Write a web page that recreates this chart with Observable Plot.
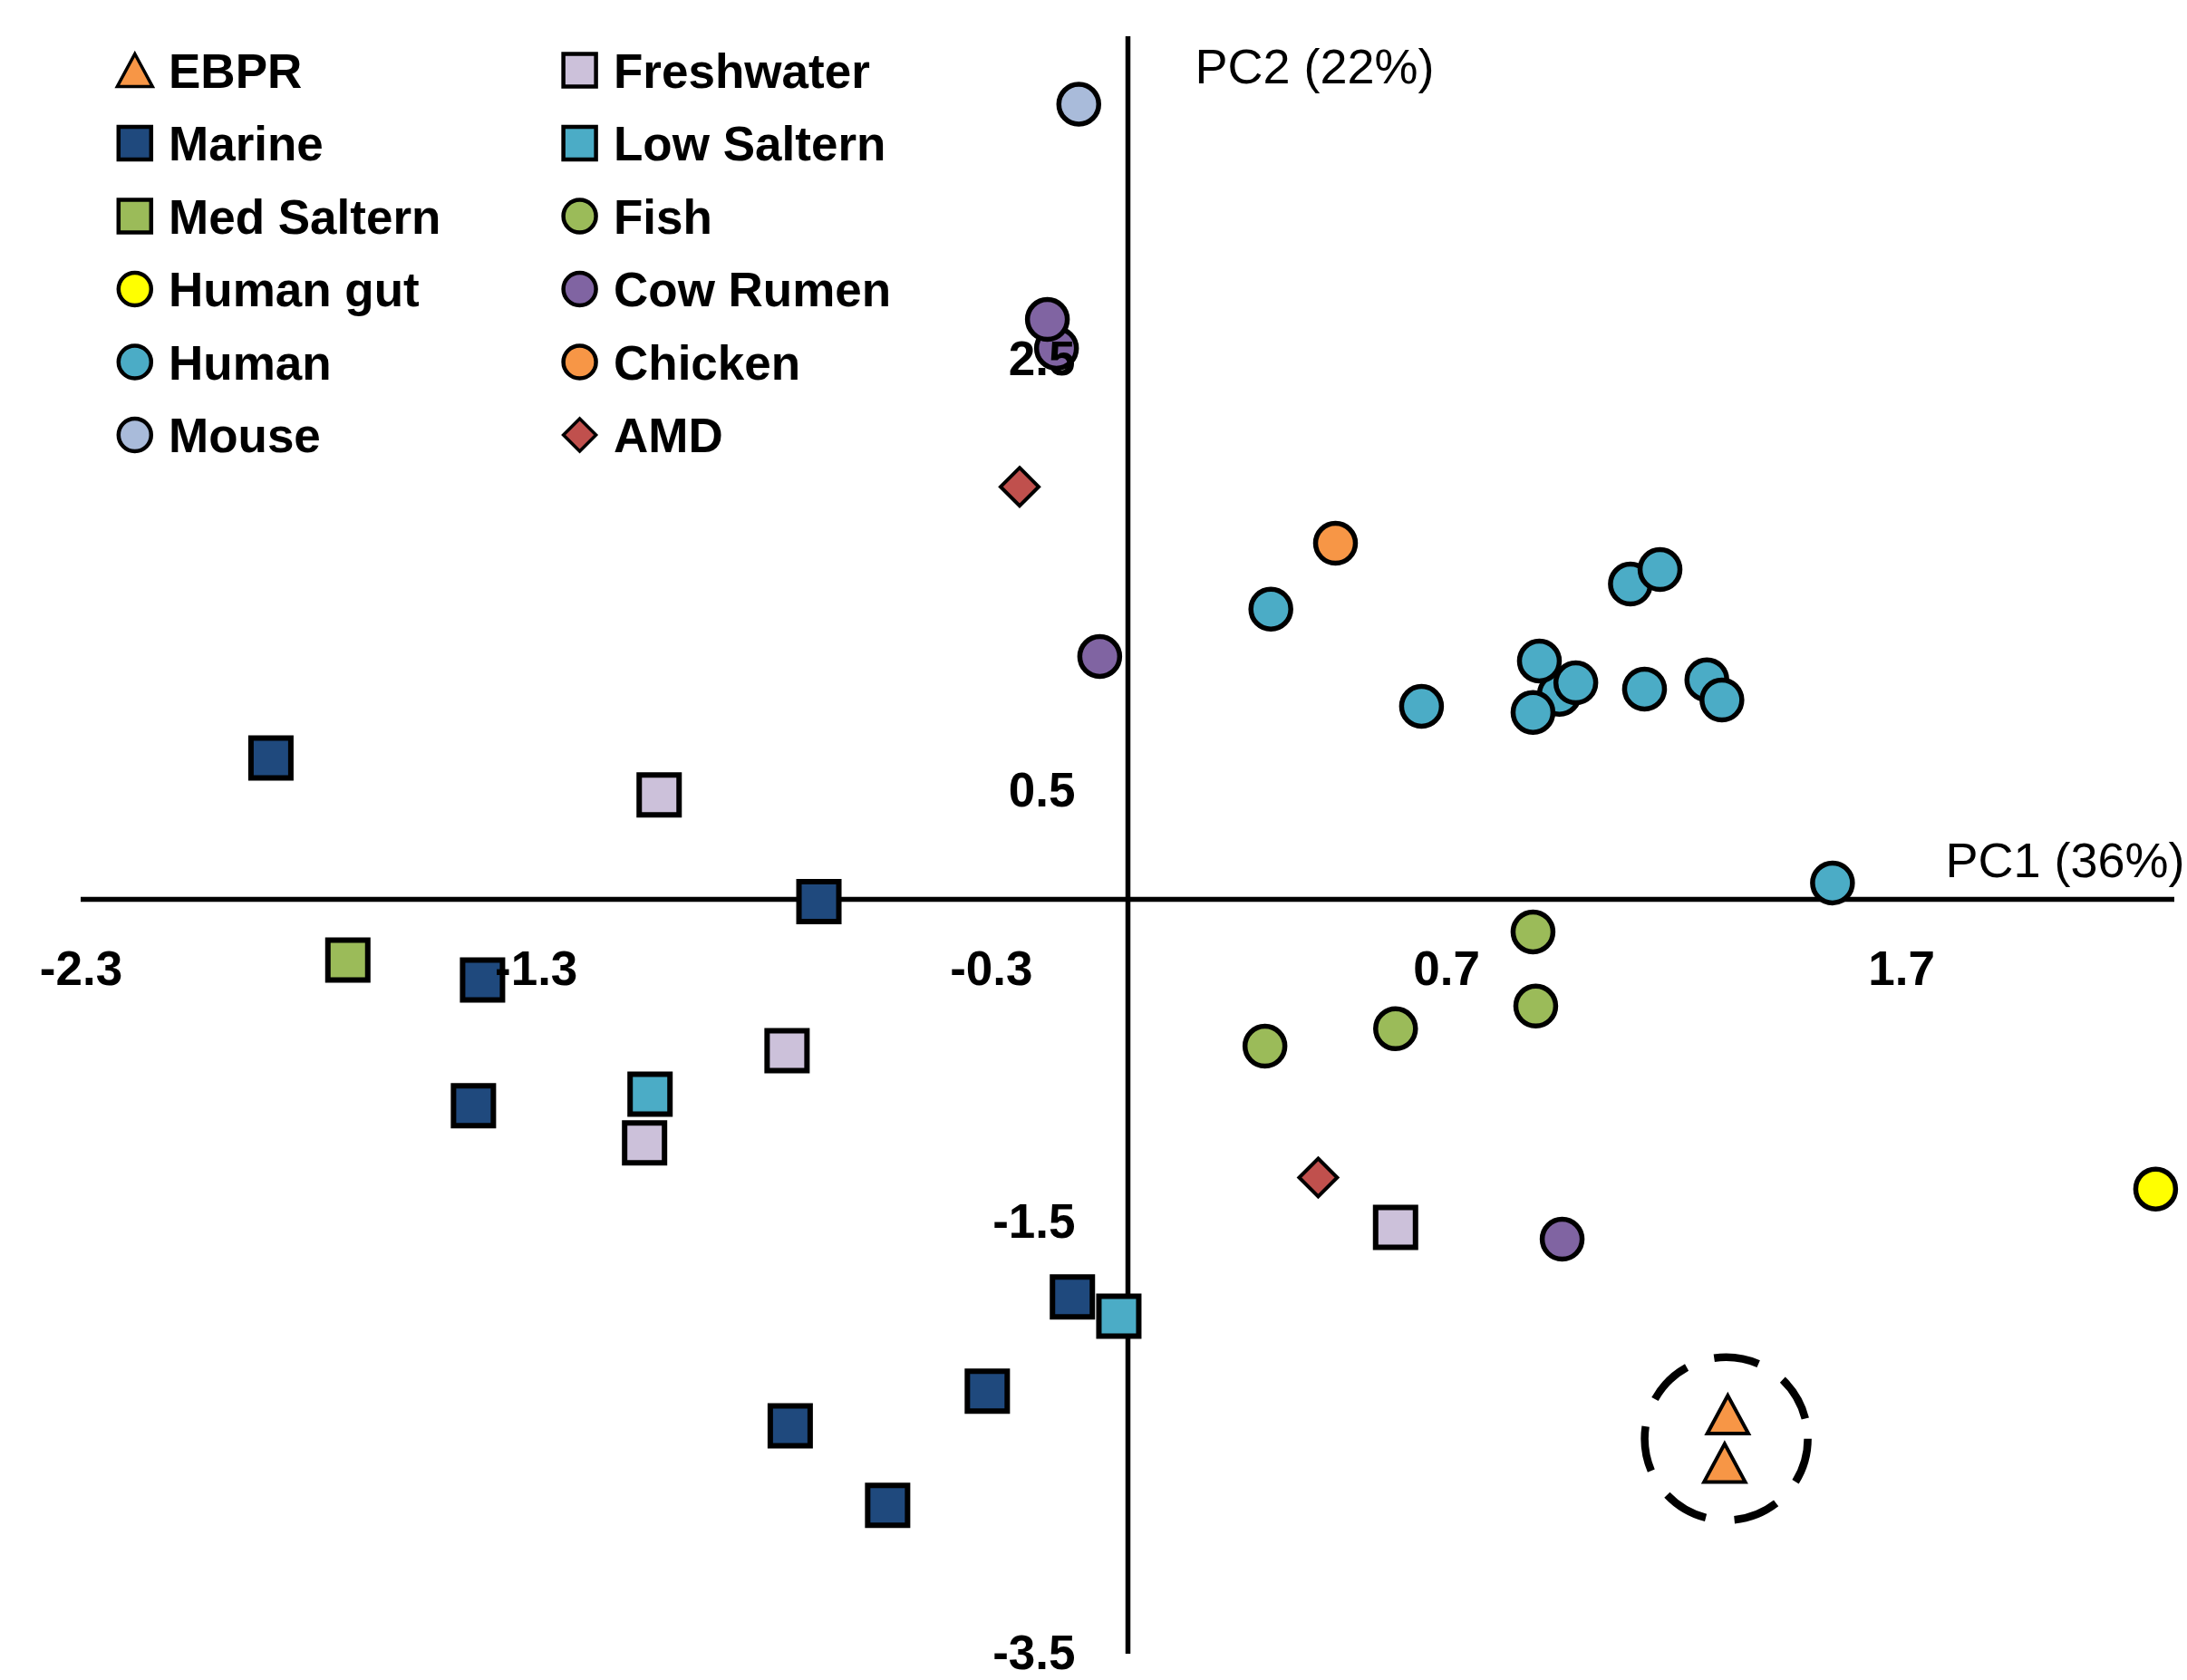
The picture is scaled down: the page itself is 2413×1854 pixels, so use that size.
<!DOCTYPE html>
<html><head><meta charset="utf-8">
<script src="https://cdn.jsdelivr.net/npm/d3@7"></script>
<script src="https://cdn.jsdelivr.net/npm/@observablehq/plot@0.6"></script>
<style>
html,body{margin:0;padding:0;background:#fff;}
#wrap{position:relative;width:2413px;height:1854px;overflow:hidden;background:#fff;}
</style></head><body><div id="wrap"></div>
<script>
// ---- data (PC1, PC2) per series, in series (drawing) order ----
const seriesNames = ["EBPR","Freshwater","Marine","Low Saltern","Med Saltern","Fish","Human gut","Cow Rumen","Human","Chicken","Mouse","AMD"];
const EBPR = [[1.318,-2.389],[1.311,-2.613]];
const Freshwater = [[-1.030,0.484],[-0.749,-0.702],[-1.062,-1.129],[0.588,-1.521]];
const Marine = [[-1.883,0.655],[-0.679,-0.011],[-1.418,-0.374],[-1.438,-0.957],[-0.122,-1.843],[-0.309,-2.280],[-0.742,-2.441],[-0.528,-2.810]];
const LowSaltern = [[-1.050,-0.903],[-0.020,-1.933]];
const MedSaltern = [[-1.714,-0.282]];
const Fish = [[0.890,-0.151],[0.896,-0.495],[0.588,-0.600],[0.301,-0.681]];
const HumanGut = [[2.258,-1.343]];
const CowRumen = [[-0.157,2.555],[-0.177,2.689],[-0.062,1.126],[0.954,-1.576]];
const Human = [[0.948,0.951],[0.904,1.105],[0.984,1.004],[0.890,0.867],[0.314,1.346],[0.645,0.895],[1.104,1.462],[1.169,1.529],[1.135,0.975],[1.272,1.018],[1.305,0.924],[1.548,0.076]];
const Chicken = [[0.456,1.651]];
const Mouse = [[-0.108,3.687]];
const AMD = [[-0.238,1.913],[0.418,-1.290]];
const seriesPoints = [EBPR,Freshwater,Marine,LowSaltern,MedSaltern,Fish,HumanGut,CowRumen,Human,Chicken,Mouse,AMD];

const xTicks = [-2.3,-1.3,-0.3,0.7,1.7];
const yTicks = [2.5,0.5,-1.5,-3.5];
const xTitle = "PC1 (36%)";
const yTitle = "PC2 (22%)";

// ---- styles ----
const seriesColors = ["#F79646","#CCC1DA","#1F497D","#4BACC6","#9BBB59","#9BBB59","#FFFF00","#8064A2","#4BACC6","#F79646","#A9BBDA","#C0504D"];
const seriesShapes = ["triangle","square","square","square","square","circle","circle","circle","circle","circle","circle","diamond"];

const symTriangle = {draw(ctx, size){const r=Math.sqrt(size/Math.PI); ctx.moveTo(0,-r); ctx.lineTo(r*1.08,r); ctx.lineTo(-r*1.08,r); ctx.closePath();}};
const symSquare = {draw(ctx, size){const r=Math.sqrt(size/Math.PI); ctx.moveTo(-r,-r); ctx.lineTo(r,-r); ctx.lineTo(r,r); ctx.lineTo(-r,r); ctx.closePath();}};
const symDiamond = {draw(ctx, size){const r=Math.sqrt(size/Math.PI); ctx.moveTo(0,-r); ctx.lineTo(r,0); ctx.lineTo(0,r); ctx.lineTo(-r,0); ctx.closePath();}};
const shapeStyle = {
  triangle: {symbol: symTriangle, r: 21, strokeWidth: 4},
  square: {symbol: symSquare, r: 22, strokeWidth: 6},
  circle: {symbol: "circle", r: 22, strokeWidth: 5.5},
  diamond: {symbol: symDiamond, r: 21, strokeWidth: 4}
};
const FONT = "'Liberation Sans', Arial, sans-serif";

const rows = seriesNames.map((name, i) => seriesPoints[i].map(([x, y]) => ({series: name, x, y})));

const ebprCenter = [{x: d3.mean(EBPR, d => d[0]), y: d3.mean(EBPR, d => d[1])}];

const marks = [
  Plot.ruleY([0], {stroke: "#000", strokeWidth: 5.5}),
  Plot.ruleX([0], {stroke: "#000", strokeWidth: 5.5}),
  Plot.dot(ebprCenter, {x: "x", y: "y", r: 90, fill: "none", stroke: "#000", strokeWidth: 8.5, strokeDasharray: "50 32"})
];
rows.forEach((data, i) => {
  const st = shapeStyle[seriesShapes[i]];
  marks.push(Plot.dot(data, {x: "x", y: "y", symbol: st.symbol, r: st.r, fill: seriesColors[i], stroke: "#000", strokeWidth: st.strokeWidth}));
});
marks.push(
  Plot.text(xTicks, {x: d => d, y: 0, dy: 78, text: d => String(d), fontSize: 53, fontWeight: "bold", fontFamily: FONT, fill: "#000"}),
  Plot.text(yTicks, {x: 0, y: d => d, dx: -58, textAnchor: "end", text: d => String(d), fontSize: 53, fontWeight: "bold", fontFamily: FONT, fill: "#000"}),
  Plot.text([yTitle], {x: 0, y: 4, dx: 74, dy: 51, lineAnchor: "bottom", textAnchor: "start", text: d => d, fontSize: 54, fontFamily: FONT, fill: "#000"}),
  Plot.text([xTitle], {x: 0, y: 0, dx: 902, dy: -25, lineAnchor: "bottom", textAnchor: "start", text: d => d, fontSize: 54, fontFamily: FONT, fill: "#000"})
);

const chart = Plot.plot({
  width: 2413,
  height: 1854,
  marginLeft: 89,
  marginRight: 14,
  marginTop: 40,
  marginBottom: 29,
  x: {domain: [-2.3, 2.3], axis: null},
  y: {domain: [-3.5, 4], axis: null},
  style: {background: "#fff", overflow: "visible"},
  marks
});
document.getElementById("wrap").appendChild(chart);

// ---- legend overlay ----
const leg = d3.select("#wrap").append("svg")
  .attr("width", 1000).attr("height", 540)
  .style("position", "absolute").style("left", "0px").style("top", "0px");
const legSym = {triangle: symTriangle, square: symSquare, circle: d3.symbolCircle, diamond: symDiamond};
const legR = {triangle: 18, square: 18, circle: 18, diamond: 18};
seriesNames.forEach((name, i) => {
  const col = i % 2, row = Math.floor(i / 2);
  const cy = 77.5 + row * 80.5;
  const mx = col === 0 ? 148.8 : 639.6;
  const tx = col === 0 ? 186 : 677;
  const shape = seriesShapes[i];
  const r = legR[shape];
  leg.append("path")
    .attr("transform", `translate(${mx},${cy})`)
    .attr("d", d3.symbol(legSym[shape], Math.PI * r * r)())
    .attr("fill", seriesColors[i]).attr("stroke", "#000").attr("stroke-width", shape === "triangle" || shape === "diamond" ? 3.5 : 4.5);
  leg.append("text")
    .attr("x", tx).attr("y", cy + 19)
    .attr("font-family", FONT).attr("font-size", 53).attr("font-weight", "bold")
    .attr("fill", "#000").text(name);
});
</script>
</body></html>
